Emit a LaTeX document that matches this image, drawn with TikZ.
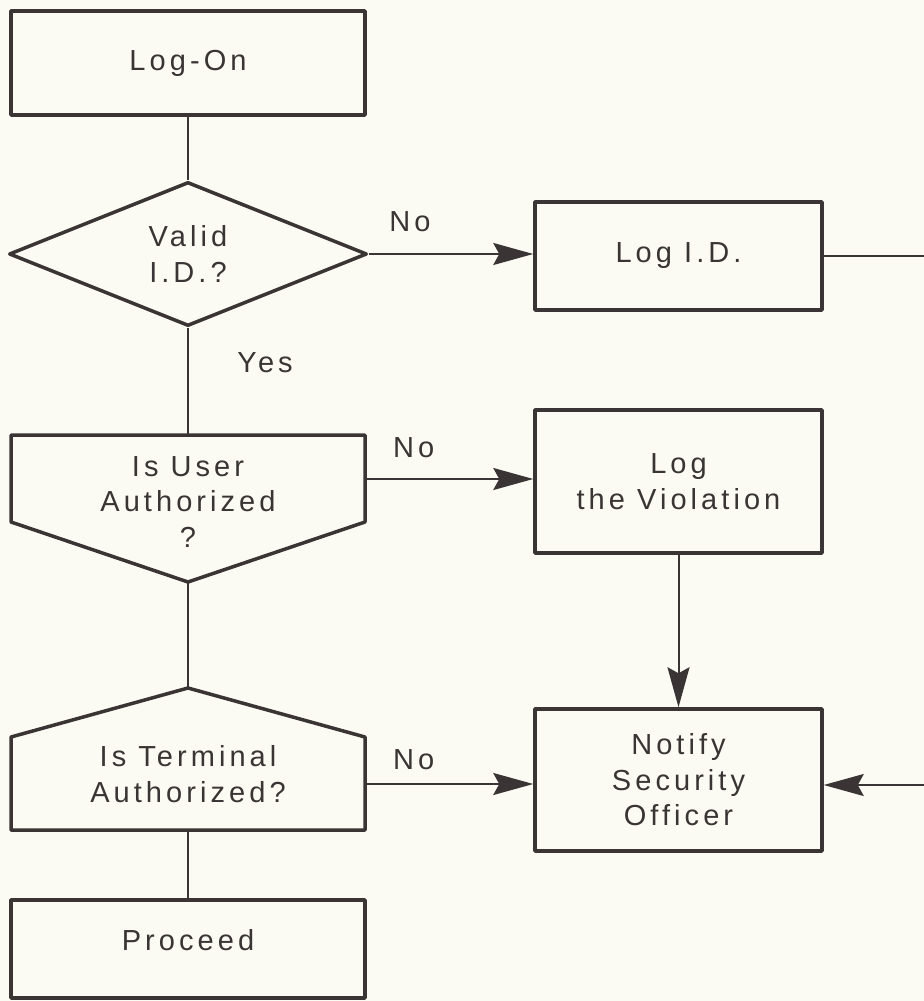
\documentclass[tikz,border=0pt]{standalone}
\usepackage{fontspec}
\setmainfont{Liberation Sans}[LetterSpace=14]
\usetikzlibrary{shapes.geometric}
\usetikzlibrary {arrows.meta}
\definecolor{inkgrey}{RGB}{58,52,52}
\definecolor{papercream}{RGB}{251,251,243}
\tikzset{flowbox/.style={rectangle,draw=inkgrey,line width=1.75pt,line join=round,
inner sep=0pt,align=center,text=inkgrey,font=\fontsize{14.5}{17.75}\selectfont}}
\tikzset{flowdecision/.style={diamond,aspect=2.5,draw=inkgrey,line width=1.75pt,line join=round,
inner sep=0pt,align=center,text=inkgrey,font=\fontsize{14.5}{17.75}\selectfont}}
\tikzset{flowtext/.style={rectangle,draw=none,
inner sep=0pt,align=center,text=inkgrey,font=\fontsize{14.5}{17.75}\selectfont}}
\tikzset{flowline/.style={draw=inkgrey,line width=1pt}}
\tikzset{flowarrow/.style={flowline,-{Stealth[length=20pt,width=11pt,inset=3pt]}}}

\begin{document}
\begin{tikzpicture}[x=0.5pt,y=-0.5pt]

        \fill[papercream] (0,0) rectangle (924,1001);
        \useasboundingbox (0,0) rectangle (924,1001);

        % left column
        \node[flowbox, minimum width=177pt, minimum height=52pt] (boxLogOn) at (188,63) {Log-On};
        \node[flowdecision, minimum width=179pt, minimum height=72pt] (boxValid) at (188,254) {Valid\\I.D.?};
        \node[flowtext] (boxUser) at (188,502) {Is User\\Authorized\\?};
        \node[flowtext] (boxTerm) at (188,774) {Is Terminal\\Authorized?};
        \node[flowbox, minimum width=177pt, minimum height=49pt, text depth=9pt] (boxProceed) at (188,949) {Proceed};

        % right column
        \node[flowbox, minimum width=143.5pt, minimum height=54pt] (boxLogID) at (678.5,256) {Log I.D.};
        \node[flowbox, minimum width=143.5pt, minimum height=71.5pt] (boxViol) at (678.5,481.5) {Log\\the Violation};
        \node[flowbox, minimum width=143.5pt, minimum height=71pt] (boxNotify) at (678.5,780) {Notify\\Security\\Officer};

        % the two pointed boxes
        \coordinate (userTop) at (188,435);
        \coordinate (userTip) at (188,582);
        \coordinate (userE) at (365,479);
        \draw[inkgrey, line width=1.75pt, line join=round] (11,435) -- (365,435) -- (365,522)
            -- (userTip) -- (11,522) -- cycle;

        \coordinate (termTip) at (188,688);
        \coordinate (termBot) at (188,830);
        \coordinate (termE) at (365,784);
        \draw[inkgrey, line width=1.75pt, line join=round] (11,830) -- (11,737) -- (termTip)
            -- (365,737) -- (365,830) -- cycle;

        % ends of the lines cut by the right edge
        \coordinate (edgeTop) at (924,256);
        \coordinate (edgeBot) at (924,785);

        % connectors
        \draw[flowline] (boxLogOn) -- (boxValid.north);
        \draw[flowline] (boxValid.south) -- (userTop);
        \draw[flowline] (userTip) -- (termTip);
        \draw[flowline] (termBot) -- (boxProceed.north);

        \draw[flowarrow] (boxValid.east) --node[flowtext, pos=0.25, yshift=16pt] {No} (boxValid.east -| boxLogID.west);
        \draw[flowarrow] (userE) --node[flowtext, pos=0.29, yshift=15.5pt] {No} (userE -| boxViol.west);
        \draw[flowarrow] (termE) --node[flowtext, pos=0.29, yshift=12pt] {No} (termE -| boxNotify.west);
        \draw[flowarrow] (boxViol) -- (boxNotify);

        \draw[flowline] (boxLogID.east) -- (edgeTop);
        \draw[flowarrow] (edgeBot) -- (edgeBot -| boxNotify.east);

        \node[flowtext] (labelYes) at (265,363) {Yes};

    \end{tikzpicture}
\end{document}
